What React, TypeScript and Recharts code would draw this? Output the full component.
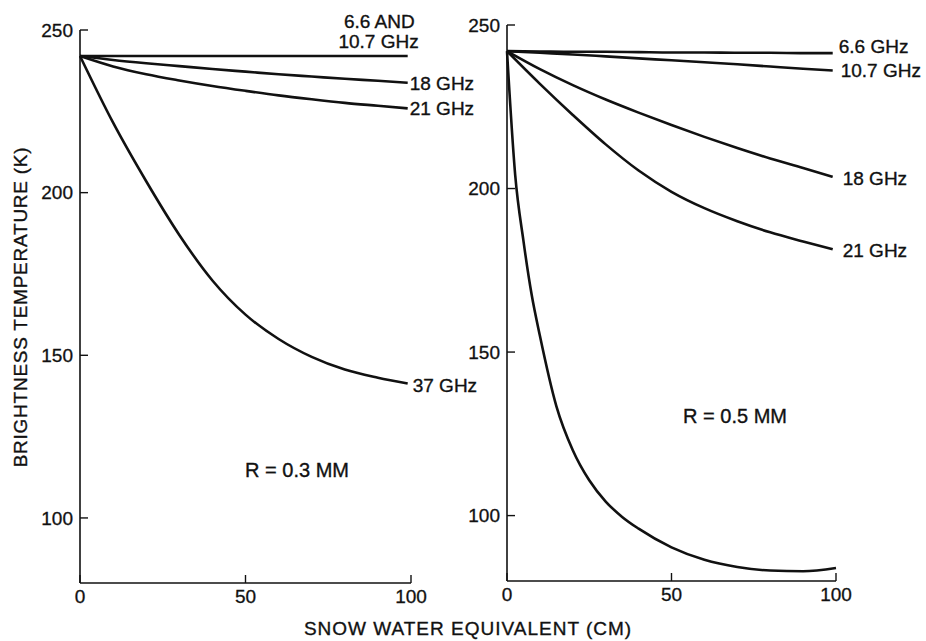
import { Line, LineChart, XAxis, YAxis } from "recharts";

const xTicks = [0, 50, 100];
const yTicks = [100, 150, 200, 250];

// snow water equivalent (cm) sample points
const swe = [0, 10, 20, 30, 40, 50, 60, 70, 80, 90, 99];
const sweFine = [0, 2.5, 5, 7.5, 10, 15, 20, 25, 30, 35, 40, 50, 60, 70, 80, 90, 100];

// left panel: R = 0.3 mm
const leftLow = [242, 242, 242, 242, 242, 242, 242, 242, 242, 242, 242];
const left18 = [242, 240.8, 239.8, 238.9, 238, 237.2, 236.4, 235.7, 235, 234.4, 233.8];
const left21 = [242, 238.8, 236.4, 234.5, 232.8, 231.3, 229.9, 228.7, 227.6, 226.7, 225.9];
const left37 = [242, 221.5, 203.5, 187, 173, 162.5, 155, 149.5, 145.6, 143.1, 141.3];

// right panel: R = 0.5 mm
const right66 = [242, 241.9, 241.8, 241.8, 241.7, 241.6, 241.6, 241.5, 241.5, 241.4, 241.4];
const right107 = [242, 241.5, 241, 240.4, 239.8, 239.2, 238.6, 238, 237.3, 236.6, 236.1];
const right18 = [242, 236.5, 231.6, 227.2, 223.2, 219.4, 215.8, 212.4, 209.2, 206.3, 203.6];
const right21 = [242, 232, 222.5, 213.5, 205.5, 199, 194, 190, 186.6, 183.8, 181.4];
const right37 = [242, 204, 184, 167.5, 155, 133.5, 120, 110.8, 104.3, 99.6, 96, 90.3, 86.5, 84.3, 83.2, 83, 84];

const FONT = '"Liberation Sans", Arial, Helvetica, sans-serif';
const INK = "#111";

const toRows = (xs: number[], ys: number[]) => xs.map((x, i) => ({ x, t: ys[i] }));

type LabelLine = { text: string; dx: number; dy: number; anchor?: "start" | "end" };

const endLabel = (lines: LabelLine[], last: number) => (p: any) => {
  if (p.index !== last) return <g key={`e-${p.index}`} />;
  return (
    <g key={`e-${p.index}`}>
      {lines.map((l, i) => (
        <text
          key={i}
          x={p.x + l.dx}
          y={p.y + l.dy}
          dy="0.36em"
          textAnchor={l.anchor ?? "start"}
          fontSize={19}
          fontFamily={FONT}
          fill={INK}
          stroke={INK}
          strokeWidth={0.35}
        >
          {l.text}
        </text>
      ))}
    </g>
  );
};

const tickStyle = { fill: INK, fontSize: 19, fontFamily: FONT, stroke: INK, strokeWidth: 0.3 };

function Panel({
  left,
  width,
  margin,
  yWidth,
  series,
}: {
  left: number;
  width: number;
  margin: { top: number; right: number; bottom: number; left: number };
  yWidth: number;
  series: { name: string; data: { x: number; t: number }[]; label?: any }[];
}) {
  return (
    <div style={{ position: "absolute", left, top: 0 }}>
      <LineChart width={width} height={641} margin={margin}>
        <XAxis
          type="number"
          dataKey="x"
          domain={[0, 100]}
          ticks={xTicks}
          tick={tickStyle}
          tickSize={-8}
          tickMargin={15}
          height={30}
          axisLine={{ stroke: INK, strokeWidth: 1.6 }}
          tickLine={{ stroke: INK, strokeWidth: 1.4 }}
          allowDuplicatedCategory={false}
        />
        <YAxis
          type="number"
          dataKey="t"
          domain={[80, 250]}
          ticks={yTicks}
          tick={tickStyle}
          tickSize={-8}
          tickMargin={15}
          width={yWidth}
          axisLine={{ stroke: INK, strokeWidth: 1.6 }}
          tickLine={{ stroke: INK, strokeWidth: 1.4 }}
        />
        {series.map((s) => (
          <Line
            key={s.name}
            data={s.data}
            dataKey="t"
            type="monotone"
            stroke={INK}
            strokeWidth={2.6}
            dot={false}
            label={s.label}
            isAnimationActive={false}
          />
        ))}
      </LineChart>
    </div>
  );
}

export default function App() {
  const n = swe.length - 1;
  const leftSeries = [
    {
      name: "6.6 and 10.7 GHz",
      data: toRows(swe, leftLow),
      label: endLabel(
        [
          { text: "6.6 AND", dx: 7, dy: -35, anchor: "end" },
          { text: "10.7 GHz", dx: 11, dy: -15, anchor: "end" },
        ],
        n
      ),
    },
    { name: "18 GHz", data: toRows(swe, left18), label: endLabel([{ text: "18 GHz", dx: 2, dy: 0 }], n) },
    { name: "21 GHz", data: toRows(swe, left21), label: endLabel([{ text: "21 GHz", dx: 2, dy: 0 }], n) },
    { name: "37 GHz", data: toRows(swe, left37), label: endLabel([{ text: "37 GHz", dx: 5, dy: 2 }], n) },
  ];
  const rightSeries = [
    { name: "6.6 GHz", data: toRows(swe, right66), label: endLabel([{ text: "6.6 GHz", dx: 6, dy: -7 }], n) },
    { name: "10.7 GHz", data: toRows(swe, right107), label: endLabel([{ text: "10.7 GHz", dx: 8, dy: 0 }], n) },
    { name: "18 GHz", data: toRows(swe, right18), label: endLabel([{ text: "18 GHz", dx: 10, dy: 1 }], n) },
    { name: "21 GHz", data: toRows(swe, right21), label: endLabel([{ text: "21 GHz", dx: 10, dy: 1 }], n) },
    { name: "37 GHz", data: toRows(sweFine, right37) },
  ];

  return (
    <div style={{ position: "absolute", left: 0, top: 0, width: 926, height: 641, background: "#fff" }}>
      <Panel
        left={0}
        width={480}
        margin={{ top: 30, right: 69, bottom: 28, left: 30 }}
        yWidth={50}
        series={leftSeries}
      />
      <Panel
        left={460}
        width={466}
        margin={{ top: 25, right: 90, bottom: 30, left: 2 }}
        yWidth={45}
        series={rightSeries}
      />
      <svg
        width={926}
        height={641}
        style={{ position: "absolute", left: 0, top: 0, pointerEvents: "none" }}
        fontFamily={FONT}
        fill={INK}
        stroke={INK}
        strokeWidth={0.35}
      >
        <text x={297} y={470} dy="0.36em" textAnchor="middle" fontSize={20}>
          R = 0.3 MM
        </text>
        <text x={735} y={416} dy="0.36em" textAnchor="middle" fontSize={20}>
          R = 0.5 MM
        </text>
        <text x={468} y={628} dy="0.36em" textAnchor="middle" fontSize={19} letterSpacing={1}>
          SNOW WATER EQUIVALENT (CM)
        </text>
        <text
          x={20}
          y={307}
          dy="0.36em"
          textAnchor="middle"
          fontSize={19}
          letterSpacing={0.75}
          transform="rotate(-90 20 307)"
        >
          BRIGHTNESS TEMPERATURE (K)
        </text>
      </svg>
    </div>
  );
}
